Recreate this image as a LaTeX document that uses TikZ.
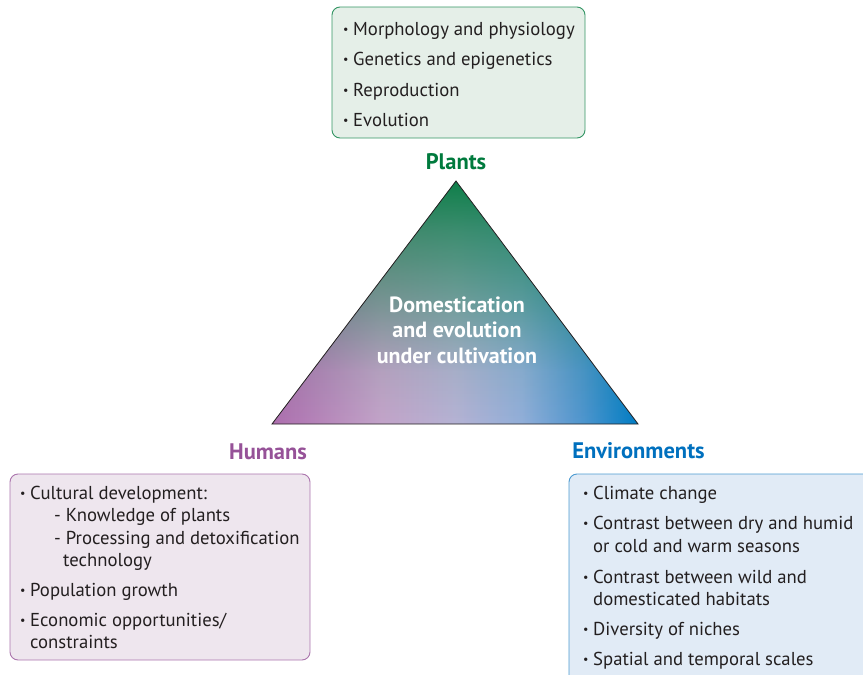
\documentclass[tikz,border=0pt]{standalone}
\usepackage{fontspec}
\setmainfont{PT Sans}
\usetikzlibrary{fadings}

\definecolor{plantgreen}{RGB}{0,122,61}
\definecolor{humpurple}{RGB}{150,82,152}
\definecolor{envblue}{RGB}{0,112,190}
\definecolor{txtgray}{RGB}{35,31,32}
\definecolor{plantfill}{RGB}{229,239,232}
\definecolor{humfill}{RGB}{238,230,238}
\definecolor{envfill}{RGB}{225,235,246}

% colours along the base of the triangle
\definecolor{base0}{RGB}{178,110,178}
\definecolor{base1}{RGB}{200,165,205}
\definecolor{base2}{RGB}{186,180,216}
\definecolor{base3}{RGB}{150,176,221}
\definecolor{base4}{RGB}{80,150,210}
\definecolor{base5}{RGB}{0,125,200}
\pgfdeclarehorizontalshading{trianglebase}{100bp}{color(0bp)=(base0); color(25bp)=(base0);
    color(40bp)=(base1); color(50bp)=(base2); color(59bp)=(base3); color(67.5bp)=(base4);
    color(75bp)=(base5); color(100bp)=(base5)}

% how much green is left from the apex (top) down to the base
\pgfdeclareverticalshading{apexramp}{100bp}{color(0bp)=(black); color(25bp)=(black);
    color(37.5bp)=(white!10!black); color(50bp)=(white!40!black); color(62.5bp)=(white!66!black);
    color(75bp)=(white); color(100bp)=(white)}
\begin{tikzfadingfrompicture}[name=fade apex]
    \shade[shading=apexramp] (0,0) rectangle (2,2);
\end{tikzfadingfrompicture}

\newcommand{\bul}{\makebox[10pt][l]{\raisebox{1.5pt}{\fontsize{12}{12}\selectfont\textbullet}}}

\begin{document}
\begin{tikzpicture}[x=1pt,y=-1pt,
    box/.style={rounded corners=8pt, line width=0.9pt},
    line/.style={anchor=base west, inner sep=0pt, text=txtgray, font=\fontsize{18.7}{22}\selectfont},
    title/.style={inner sep=0pt, font=\bfseries\fontsize{22.5}{26}\selectfont}]
    \clip (0,0) rectangle (863,675);

    % the triangle
    \coordinate (apex) at (456,181);
    \coordinate (bl) at (272,424);
    \coordinate (br) at (638,424);
    \shade[shading=trianglebase] (apex) -- (bl) -- (br) -- cycle;
    \fill[plantgreen, path fading=fade apex, fit fading=true] (apex) -- (bl) -- (br) -- cycle;
    \draw[txtgray, line width=0.8pt, line join=miter] (apex) -- (bl) -- (br) -- cycle;
    \node[inner sep=0pt, align=center, text=white, font=\bfseries\fontsize{22}{25.5}\selectfont] (core) at (457,330)
        {Domestication\\and evolution\\under cultivation};

    % plants
    \filldraw[box, draw=plantgreen!80, fill=plantfill] (332,7) rectangle (585,138);
    \node[line] (p1) at (343,35) {\bul Morphology and physiology};
    \node[line] (p2) at (343,65) {\bul Genetics and epigenetics};
    \node[line] (p3) at (343,96) {\bul Reproduction};
    \node[line] (p4) at (343,126) {\bul Evolution};
    \node[title, text=plantgreen] (plants) at (456,162) {Plants};

    % humans
    \node[title, text=humpurple] (humans) at (268,452) {Humans};
    \filldraw[box, draw=humpurple!80, fill=humfill] (10,474) rectangle (310,660);
    \node[line] (h1) at (20,499) {\bul Cultural development:};
    \node[line] (h2) at (54,521) {- Knowledge of plants};
    \node[line] (h3) at (54,544) {- Processing and detoxification};
    \node[line] (h4) at (63,566) {technology};
    \node[line] (h5) at (20,596) {\bul Population growth};
    \node[line] (h6) at (20,626) {\bul Economic opportunities/};
    \node[line] (h7) at (30,648) {constraints};

    % environments
    \node[title, text=envblue] (envs) at (638.5,451) {Environments};
    \filldraw[box, draw=envblue!70, fill=envfill] (569,474) rectangle (890,700);
    \node[line] (e1) at (583,499) {\bul Climate change};
    \node[line] (e2) at (583,529) {\bul Contrast between dry and humid};
    \node[line] (e3) at (593,552) {or cold and warm seasons};
    \node[line] (e4) at (583,583) {\bul Contrast between wild and};
    \node[line] (e5) at (593,605) {domesticated habitats};
    \node[line] (e6) at (583,635) {\bul Diversity of niches};
    \node[line] (e7) at (583,665) {\bul Spatial and temporal scales};
\end{tikzpicture}
\end{document}
